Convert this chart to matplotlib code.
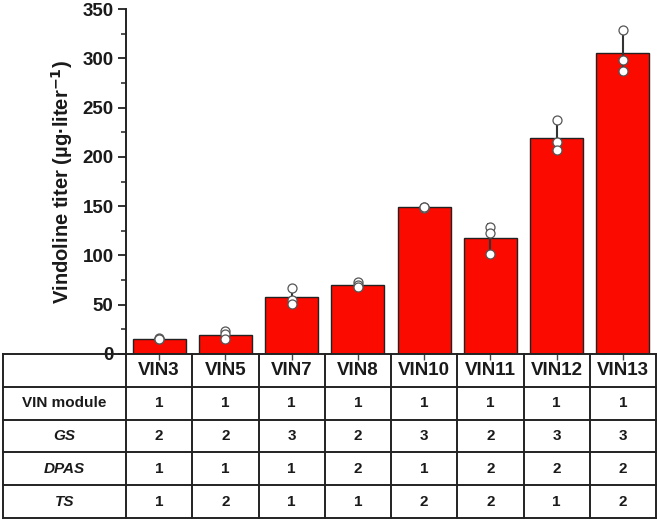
import matplotlib
matplotlib.use("Agg")
import matplotlib.pyplot as plt
import numpy as np

plt.rcParams['font.family'] = ['Liberation Sans', 'DejaVu Sans']
plt.rcParams['font.weight'] = 'bold'

strains = ["VIN3", "VIN5", "VIN7", "VIN8", "VIN10", "VIN11", "VIN12", "VIN13"]
bar_values = [15.5, 19.5, 57.5, 70.0, 149.0, 117.5, 219.5, 305.0]
replicates = [
    [16.5, 15.0, 15.0],
    [23.0, 20.0, 15.5],
    [67.0, 55.0, 50.5],
    [73.0, 70.0, 67.5],
    [149.5, 148.5, 149.0],
    [129.0, 123.0, 101.0],
    [237.0, 215.0, 206.5],
    [329.0, 298.0, 287.0],
]
row_labels = ["VIN module", "GS", "DPAS", "TS"]
row_italic = [False, True, True, True]
table_values = [
    [1, 1, 1, 1, 1, 1, 1, 1],
    [2, 2, 3, 2, 3, 2, 3, 3],
    [1, 1, 1, 2, 1, 2, 2, 2],
    [1, 2, 1, 1, 2, 2, 1, 2],
]
yticks = [0, 50, 100, 150, 200, 250, 300, 350]

W, H = 660, 522
fig = plt.figure(figsize=(6.6, 5.22), dpi=100)

ax_l, ax_r, ax_t, ax_b = 126, 656, 9, 354
ax = fig.add_axes([ax_l / W, 1 - ax_b / H, (ax_r - ax_l) / W, (ax_b - ax_t) / H])
n = len(strains)
x = np.arange(n)
sd = [np.std(r, ddof=1) for r in replicates]
ax.bar(x, bar_values, width=0.8, color="#fb0a00", edgecolor="#222222", linewidth=1.0, zorder=2)
ax.errorbar(x, bar_values, yerr=sd, fmt="none", ecolor="#333333", elinewidth=1.5,
            capsize=2.5, capthick=1.2, zorder=3)
for i, r in enumerate(replicates):
    ax.scatter([x[i]] * len(r), r, s=42, facecolor="white", edgecolor="#555555",
               linewidth=0.9, zorder=4)
ax.set_xlim(-0.5, n - 0.5)
ax.set_ylim(0, 350)
ax.set_yticks(yticks)
ax.set_yticklabels([str(v) for v in yticks], fontsize=13.5, fontweight='bold')
ax.set_yticks(np.arange(25, 350, 50), minor=True)
ax.tick_params(axis='y', which='major', direction='out', length=6, width=1.3, colors='#222222',
               labelcolor='#1a1a1a', pad=3)
ax.tick_params(axis='y', which='minor', direction='out', length=3.5, width=1.1, colors='#222222')
ax.set_xticks(x)
ax.set_xticklabels([])
ax.tick_params(axis='x', direction='out', length=4, width=1.0, colors='#444444')
for s in ["top", "right"]:
    ax.spines[s].set_visible(False)
ax.spines["left"].set_linewidth(1.4)
ax.spines["left"].set_color("#222222")
ax.spines["bottom"].set_visible(False)
ax.set_ylabel("Vindoline titer (µg·liter$^{\\mathbf{-1}}$)", fontsize=14.5, fontweight='bold',
              labelpad=5, color='#1a1a1a')

# table
tb_l, tb_r, tb_t, tb_b = 3, 656, 354, 518
tab = fig.add_axes([tb_l / W, 1 - tb_b / H, (tb_r - tb_l) / W, (tb_b - tb_t) / H])
col_w = (ax_r - ax_l) / n
first_w = (ax_l - tb_l) / col_w
x0 = -0.5 - first_w
tab.set_xlim(x0, n - 0.5)
nrows = 1 + len(row_labels)
tab.set_ylim(nrows, 0)
tab.axis('off')
lc = "#222222"
for k in range(nrows + 1):
    tab.plot([x0, n - 0.5], [k, k], color=lc, lw=1.4, clip_on=False, solid_capstyle='projecting')
tab.plot([x0, x0], [0, nrows], color=lc, lw=1.4, clip_on=False)
for k in range(n + 1):
    tab.plot([k - 0.5, k - 0.5], [0, nrows], color=lc, lw=1.4, clip_on=False)
for i, s in enumerate(strains):
    tab.text(i, 0.5, s, ha='center', va='center', fontsize=13.5, fontweight='bold', color='#1a1a1a')
for r, lab in enumerate(row_labels):
    tab.text((x0 - 0.5) / 2, r + 1.5, lab, ha='center', va='center', fontsize=11,
             fontweight='bold', style='italic' if row_italic[r] else 'normal', color='#1a1a1a')
    for i in range(n):
        tab.text(i, r + 1.5, str(table_values[r][i]), ha='center', va='center',
                 fontsize=11, fontweight='bold', color='#1a1a1a')

fig.savefig("out.png", dpi=100)
